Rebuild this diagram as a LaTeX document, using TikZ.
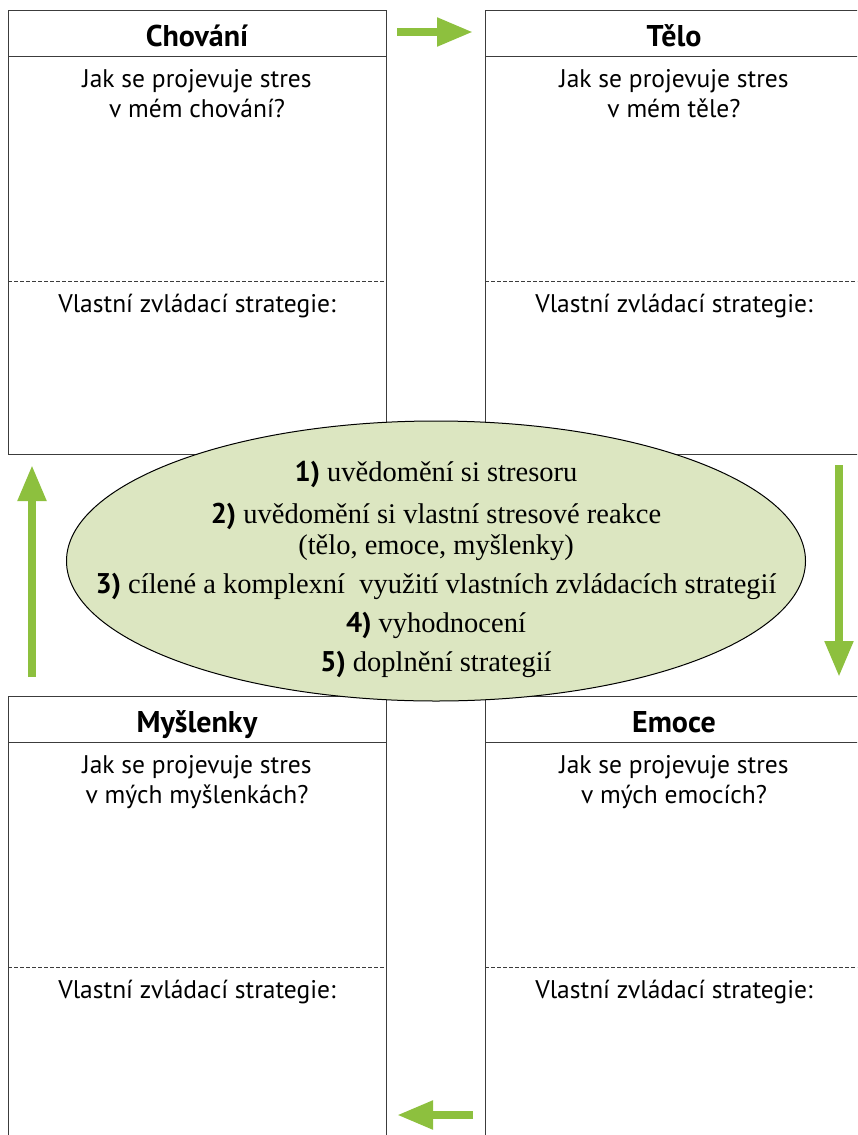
\documentclass[tikz,border=0pt]{standalone}
\usepackage{fontspec}
\setmainfont{Liberation Serif}
\newfontfamily\panelfont{PT Sans}
\usetikzlibrary{arrows.meta,shapes.geometric}
\definecolor{arrowgreen}{RGB}{141,192,62}
\definecolor{ovalgreen}{RGB}{220,230,193}
\definecolor{framegray}{RGB}{60,60,60}
\newcommand{\stepno}[1]{{\panelfont\bfseries #1}}
\tikzset{
  panel/.style={draw=framegray,line width=1pt,minimum width=378pt,minimum height=444pt,inner sep=0pt,outer sep=0pt},
  paneltitle/.style={font=\panelfont\bfseries\fontsize{30}{34}\selectfont,anchor=base},
  question/.style={font=\panelfont\fontsize{25.5}{30}\selectfont,align=center,anchor=base},
  divider/.style={draw=framegray,line width=0.8pt,dash pattern=on 4pt off 2pt},
  flow/.style={draw=arrowgreen,line width=8pt,-{Triangle[length=36pt,width=27pt]}}
}

\begin{document}
\begin{tikzpicture}[x=1pt,y=-1pt]
	\path[use as bounding box,clip] (0,0) rectangle (857,1135);
	% the four panels
	\node[panel] (chovani) at (197,232) {};
	\node[panel] (telo) at (674,232) {};
	\node[panel] (myslenky) at (197,918) {};
	\node[panel] (emoce) at (674,918) {};
	\draw[framegray,line width=1pt] ([yshift=-46pt]chovani.north west) -- ([yshift=-46pt]chovani.north east);
	\draw[framegray,line width=1pt] ([yshift=-46pt]telo.north west) -- ([yshift=-46pt]telo.north east);
	\draw[framegray,line width=1pt] ([yshift=-46pt]myslenky.north west) -- ([yshift=-46pt]myslenky.north east);
	\draw[framegray,line width=1pt] ([yshift=-46pt]emoce.north west) -- ([yshift=-46pt]emoce.north east);
	\draw[divider] ([yshift=-271pt]chovani.north west) -- ([yshift=-271pt]chovani.north east);
	\draw[divider] ([yshift=-271pt]telo.north west) -- ([yshift=-271pt]telo.north east);
	\draw[divider] ([yshift=-271pt]myslenky.north west) -- ([yshift=-271pt]myslenky.north east);
	\draw[divider] ([yshift=-271pt]emoce.north west) -- ([yshift=-271pt]emoce.north east);
	\node[paneltitle] (chovani-t) at ([yshift=-36pt]chovani.north) {Chování};
	\node[paneltitle] (telo-t) at ([yshift=-36pt]telo.north) {Tělo};
	\node[paneltitle] (myslenky-t) at ([yshift=-36pt]myslenky.north) {Myšlenky};
	\node[paneltitle] (emoce-t) at ([yshift=-36pt]emoce.north) {Emoce};
	% base of a two-line node is its last line
	\node[question] (chovani-q) at ([yshift=-107pt]chovani.north) {Jak se projevuje stres\\v mém chování?};
	\node[question] (telo-q) at ([yshift=-107pt]telo.north) {Jak se projevuje stres\\v mém těle?};
	\node[question] (myslenky-q) at ([yshift=-107pt]myslenky.north) {Jak se projevuje stres\\v mých myšlenkách?};
	\node[question] (emoce-q) at ([yshift=-107pt]emoce.north) {Jak se projevuje stres\\v mých emocích?};
	\node[question] (chovani-s) at ([yshift=-302pt]chovani.north) {Vlastní zvládací strategie:};
	\node[question] (telo-s) at ([yshift=-302pt]telo.north) {Vlastní zvládací strategie:};
	\node[question] (myslenky-s) at ([yshift=-302pt]myslenky.north) {Vlastní zvládací strategie:};
	\node[question] (emoce-s) at ([yshift=-302pt]emoce.north) {Vlastní zvládací strategie:};
	% the oval in the middle
	\node[ellipse,draw=black,line width=1pt,fill=ovalgreen,minimum width=739pt,minimum height=280pt,inner sep=0pt] (plan) at (436,561) {};
	\node[font=\fontsize{28.5}{31}\selectfont,align=center] (steps) at (436,569.5) {\stepno{1)} uvědomění si stresoru\\[11pt]
		\stepno{2)} uvědomění si vlastní stresové reakce\\(tělo, emoce, myšlenky)\\[8pt]
		\stepno{3)} cílené a komplexní~ využití vlastních zvládacích strategií\\[8pt]
		\stepno{4)} vyhodnocení\\[8pt]
		\stepno{5)} doplnění strategií};
	% arrows between the panels
	\coordinate (right-from) at (397,32);
	\coordinate (right-to) at (473,32);
	\coordinate (down-from) at (839,465);
	\coordinate (down-to) at (839,677);
	\coordinate (left-from) at (473,1115);
	\coordinate (left-to) at (397,1115);
	\coordinate (up-from) at (32,677);
	\coordinate (up-to) at (32,465);
	\draw[flow] (right-from) -- (right-to);
	\draw[flow] (down-from) -- (down-to);
	\draw[flow] (left-from) -- (left-to);
	\draw[flow] (up-from) -- (up-to);
\end{tikzpicture}
\end{document}
